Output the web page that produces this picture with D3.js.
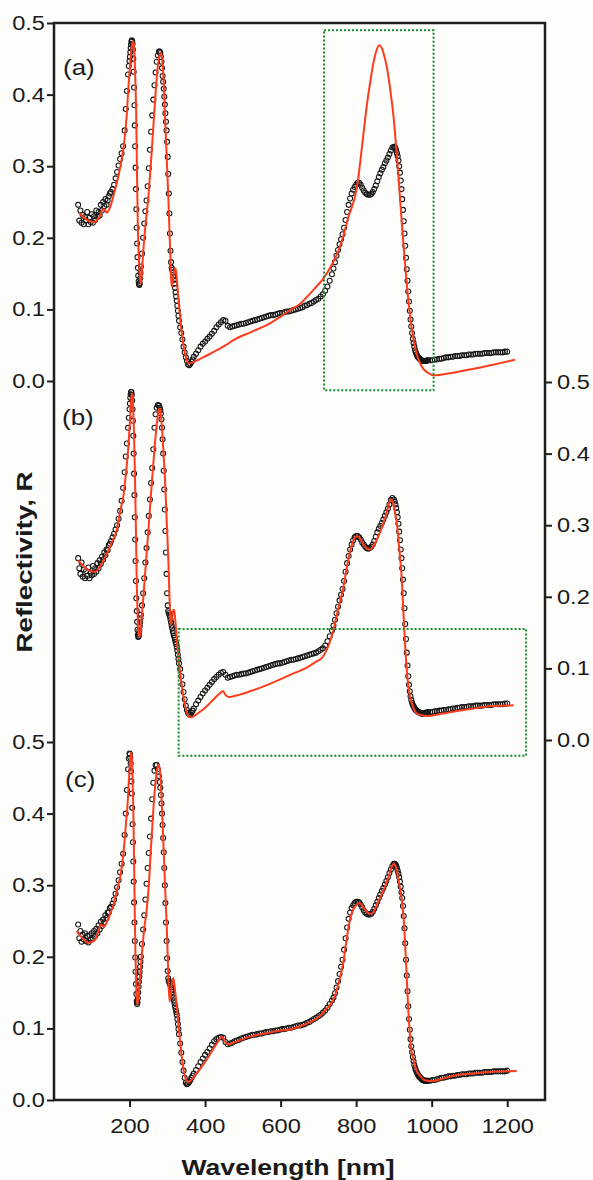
<!DOCTYPE html>
<html>
<head>
<meta charset="utf-8">
<script src="https://cdn.jsdelivr.net/npm/d3@7"></script>
<style>
  html, body { margin: 0; padding: 0; background: #fdfdfb; }
  svg { display: block; }
  text { font-family: "Liberation Sans", Arial, sans-serif; fill: #1a1a1a; }
</style>
</head>
<body>
<svg id="chart" width="593" height="1180"></svg>
<script>
// ---- Data -----------------------------------------------------------------
// Wavelength grid (nm) of the measured reflectivity points
const wavelength = [
  64,67,70,73,76,79,82,85,88,91,94,97,100,103,106,109,112,115,118,121,124,127,130,133,136,139,142,145,148,
  151,155,159,163,167,171,175,179,183,187,190,193,196,198,
  200,201,202,203,204,205,206,207,208,209,210,211,212,213,214,215,216,217,218,219,220,221,222,223,224,225,226,227,228,229,230,
  233,236,239,242,245,248,251,254,257,260,263,266,269,272,275,278,
  280,281.5,283,284.5,286,287.5,289,290.5,292,293.5,295,296.5,298,299.5,301,302.5,304,305.5,307,308.5,310,311.5,313,314.5,316,317.5,319,320.5,322,323.5,325,326.5,328,329.5,331,
  334,337,340,343,346,349,352,355,358,361,364,367,370,
  376,382,388,394,400,406,412,418,424,430,436,442,448,454,460,466,472,478,484,490,496,502,508,514,520,526,532,538,544,550,556,562,568,574,580,586,592,598,604,610,616,622,628,634,640,646,652,658,664,670,676,682,688,694,700,706,712,718,724,730,736,
  740,744,748,752,756,760,764,768,772,776,780,784,788,792,796,800,804,808,812,816,820,824,828,832,836,840,844,848,852,856,860,864,868,872,876,880,884,888,892,896,900,
  902,904,906,908,910,912,914,916,918,920,922,924,926,928,930,932,934,936,938,940,942,944,946,948,950,952,954,956,958,960,962,964,966,968,970,972,974,976,978,980,982,984,986,988,990,
  996,1002,1008,1014,1020,1026,1032,1038,1044,1050,1056,1062,1068,1074,1080,1086,1092,1098,1104,1110,1116,1122,1128,1134,1140,1146,1152,1158,1164,1170,1176,1182,1188,1194,1200
];

// Measured reflectivity, panel (a)
const measuredA = [
  0.246,0.224,0.238,0.221,0.232,0.219,0.229,0.224,0.236,0.219,0.228,0.222,0.233,0.221,0.230,0.225,0.238,0.229,0.236,0.231,0.246,0.238,0.250,0.244,0.254,0.246,0.252,0.258,0.262,
  0.264,0.268,0.274,0.283,0.292,0.301,0.310,0.318,0.328,0.350,0.380,0.405,0.428,0.440,
  0.447,0.453,0.459,0.465,0.470,0.474,0.476,0.475,0.471,0.463,0.450,0.432,0.410,0.385,0.357,0.328,0.298,0.268,0.240,0.214,0.192,0.173,0.158,0.147,0.139,0.135,0.134,0.137,0.143,0.151,0.160,
  0.178,0.200,0.220,0.237,0.252,0.272,0.297,0.323,0.348,0.371,0.393,0.413,0.431,0.446,0.455,0.460,
  0.460,0.458,0.453,0.446,0.437,0.426,0.418,0.408,0.397,0.386,0.374,0.362,0.350,0.334,0.313,0.289,0.262,0.234,0.206,0.182,0.166,0.158,0.155,0.151,0.146,0.141,0.136,0.130,0.124,0.118,0.112,0.105,0.098,0.091,0.084,
  0.075,0.067,0.058,0.048,0.040,0.033,0.028,0.023,0.022,0.024,0.027,0.030,0.034,
  0.038,0.043,0.048,0.052,0.055,0.059,0.062,0.066,0.070,0.075,0.079,0.082,0.085,0.084,0.077,0.075,0.076,0.077,0.078,0.079,0.080,0.080,0.081,0.082,0.083,0.084,0.085,0.086,0.087,0.088,0.089,0.090,0.091,0.092,0.092,0.093,0.094,0.095,0.095,0.096,0.097,0.097,0.098,0.099,0.100,0.101,0.102,0.103,0.105,0.106,0.108,0.109,0.111,0.113,0.115,0.118,0.121,0.126,0.132,0.140,0.149,
  0.157,0.166,0.175,0.183,0.191,0.198,0.205,0.214,0.225,0.236,0.246,0.255,0.262,0.267,0.271,0.274,0.277,0.277,0.274,0.270,0.266,0.263,0.261,0.260,0.260,0.261,0.264,0.268,0.273,0.279,0.285,0.290,0.295,0.299,0.304,0.308,0.312,0.317,0.322,0.326,0.327,
  0.327,0.325,0.322,0.318,0.314,0.308,0.300,0.291,0.280,0.268,0.254,0.239,0.223,0.206,0.189,0.172,0.156,0.140,0.125,0.111,0.098,0.086,0.076,0.067,0.059,0.053,0.048,0.043,0.040,0.037,0.035,0.033,0.032,0.031,0.030,0.029,0.029,0.028,0.028,0.028,0.028,0.028,0.028,0.029,0.029,
  0.029,0.029,0.030,0.030,0.031,0.031,0.032,0.033,0.033,0.034,0.034,0.035,0.035,0.035,0.036,0.036,0.036,0.037,0.037,0.037,0.038,0.038,0.038,0.038,0.039,0.039,0.039,0.039,0.040,0.040,0.040,0.040,0.040,0.041,0.041
];

// Measured reflectivity, panel (b)
const measuredB = [
  0.254,0.240,0.232,0.248,0.228,0.238,0.226,0.236,0.229,0.241,0.226,0.234,0.230,0.243,0.232,0.240,0.235,0.247,0.240,0.251,0.246,0.256,0.252,0.262,0.258,0.266,0.265,0.272,0.274,
  0.278,0.283,0.288,0.294,0.300,0.309,0.320,0.334,0.352,0.374,0.396,0.414,0.436,0.450,
  0.462,0.470,0.478,0.483,0.486,0.486,0.482,0.474,0.462,0.446,0.425,0.400,0.372,0.342,0.311,0.280,0.250,0.222,0.198,0.180,0.165,0.154,0.147,0.144,0.145,0.148,0.153,0.159,0.164,0.170,0.175,
  0.188,0.205,0.226,0.248,0.268,0.290,0.313,0.336,0.359,0.380,0.406,0.436,0.455,0.464,0.468,0.467,
  0.464,0.461,0.456,0.448,0.436,0.420,0.400,0.376,0.350,0.322,0.292,0.262,0.232,0.205,0.188,0.180,0.177,0.175,0.172,0.168,0.164,0.160,0.156,0.152,0.149,0.146,0.143,0.140,0.137,0.134,0.130,0.125,0.119,0.113,0.107,
  0.099,0.089,0.078,0.067,0.057,0.048,0.042,0.038,0.036,0.036,0.038,0.041,0.044,
  0.050,0.055,0.060,0.065,0.069,0.073,0.077,0.081,0.085,0.088,0.091,0.094,0.095,0.091,0.087,0.088,0.089,0.090,0.091,0.091,0.092,0.093,0.093,0.094,0.095,0.096,0.097,0.098,0.099,0.100,0.101,0.102,0.103,0.104,0.105,0.106,0.107,0.107,0.108,0.109,0.110,0.111,0.112,0.112,0.113,0.114,0.115,0.116,0.117,0.118,0.119,0.120,0.121,0.122,0.124,0.126,0.128,0.132,0.138,0.145,0.153,
  0.160,0.168,0.177,0.186,0.195,0.203,0.211,0.222,0.235,0.247,0.257,0.266,0.273,0.279,0.283,0.285,0.285,0.283,0.280,0.276,0.273,0.270,0.268,0.267,0.268,0.270,0.273,0.278,0.284,0.290,0.295,0.299,0.303,0.308,0.313,0.318,0.323,0.329,0.335,0.338,0.336,
  0.333,0.329,0.324,0.318,0.311,0.302,0.291,0.279,0.266,0.254,0.240,0.224,0.205,0.184,0.162,0.141,0.122,0.104,0.089,0.077,0.068,0.061,0.056,0.052,0.049,0.047,0.045,0.043,0.042,0.041,0.040,0.039,0.039,0.038,0.038,0.037,0.037,0.037,0.037,0.037,0.038,0.038,0.038,0.038,0.039,
  0.039,0.039,0.040,0.040,0.041,0.041,0.042,0.042,0.043,0.043,0.044,0.044,0.045,0.045,0.046,0.046,0.046,0.047,0.047,0.047,0.048,0.048,0.048,0.048,0.049,0.049,0.049,0.049,0.050,0.050,0.050,0.050,0.050,0.051,0.051
];

// Measured reflectivity, panel (c)
const measuredC = [
  0.245,0.226,0.236,0.221,0.231,0.224,0.233,0.222,0.229,0.220,0.230,0.224,0.233,0.226,0.236,0.229,0.239,0.233,0.244,0.238,0.249,0.243,0.252,0.248,0.258,0.254,0.262,0.262,0.268,
  0.270,0.274,0.280,0.288,0.297,0.307,0.318,0.330,0.344,0.370,0.400,0.433,0.462,0.477,
  0.484,0.483,0.478,0.470,0.459,0.445,0.428,0.408,0.385,0.360,0.333,0.305,0.276,0.248,0.222,0.199,0.179,0.162,0.148,0.138,0.134,0.136,0.142,0.150,0.158,0.165,0.172,0.179,0.186,0.193,0.200,
  0.218,0.238,0.258,0.280,0.302,0.324,0.345,0.368,0.393,0.420,0.443,0.460,0.468,0.468,0.462,0.452,
  0.444,0.436,0.426,0.414,0.400,0.384,0.366,0.346,0.324,0.300,0.275,0.248,0.222,0.198,0.180,0.170,0.166,0.164,0.162,0.160,0.157,0.154,0.151,0.147,0.143,0.139,0.135,0.131,0.127,0.123,0.119,0.113,0.106,0.099,0.092,
  0.079,0.066,0.053,0.041,0.031,0.024,0.022,0.023,0.025,0.028,0.031,0.034,0.037,
  0.042,0.047,0.053,0.058,0.063,0.067,0.072,0.077,0.082,0.085,0.087,0.088,0.087,0.081,0.078,0.079,0.080,0.082,0.083,0.084,0.086,0.087,0.088,0.089,0.090,0.091,0.091,0.092,0.093,0.093,0.094,0.095,0.095,0.096,0.096,0.097,0.097,0.098,0.099,0.099,0.100,0.101,0.101,0.102,0.103,0.104,0.104,0.105,0.106,0.108,0.109,0.111,0.113,0.115,0.117,0.119,0.122,0.125,0.129,0.134,0.139,
  0.143,0.149,0.157,0.166,0.176,0.186,0.196,0.210,0.226,0.241,0.253,0.262,0.268,0.272,0.275,0.277,0.277,0.276,0.273,0.269,0.265,0.262,0.260,0.259,0.259,0.260,0.263,0.267,0.272,0.277,0.282,0.287,0.292,0.296,0.301,0.306,0.311,0.317,0.322,0.327,0.330,
  0.330,0.329,0.327,0.324,0.320,0.316,0.311,0.305,0.298,0.290,0.282,0.271,0.257,0.240,0.219,0.196,0.174,0.152,0.131,0.113,0.098,0.085,0.075,0.067,0.060,0.054,0.049,0.045,0.042,0.039,0.037,0.035,0.033,0.032,0.031,0.030,0.029,0.028,0.028,0.027,0.027,0.027,0.027,0.027,0.027,
  0.027,0.028,0.028,0.029,0.030,0.031,0.031,0.032,0.033,0.033,0.034,0.034,0.035,0.035,0.036,0.036,0.036,0.037,0.037,0.037,0.038,0.038,0.038,0.038,0.039,0.039,0.039,0.039,0.040,0.040,0.040,0.040,0.040,0.040,0.041
];

// Model fits: [wavelength nm, reflectivity]
const fitA = [
  [66,0.235],[80,0.228],[95,0.223],[108,0.222],[120,0.229],[130,0.240],[135,0.239],[140,0.235],[150,0.245],[161,0.266],[170,0.285],[179,0.309],[186,0.334],[192,0.367],[197,0.410],[201,0.439],[205,0.463],[208,0.473],[210,0.474],[212,0.466],[214,0.445],[216,0.410],[217.5,0.375],[219,0.320],[220.5,0.262],[222,0.215],[224,0.180],[226,0.158],[228,0.142],[229.6,0.136],[231,0.140],[233,0.155],[236.6,0.183],[243,0.222],[250,0.258],[256,0.300],[263,0.355],[270,0.410],[276,0.445],[280,0.456],[282.6,0.458],[285,0.454],[288,0.440],[291,0.410],[294,0.369],[298,0.318],[303,0.252],[307,0.190],[310,0.145],[311.7,0.132],[314,0.138],[317,0.150],[320,0.157],[322,0.157],[325,0.145],[329,0.117],[334,0.088],[340,0.060],[347,0.038],[352,0.028],[356,0.0245],[362,0.025],[372,0.027],[387,0.031],[410,0.037],[431,0.043],[455,0.050],[475,0.057],[520,0.068],[563,0.078],[600,0.090],[625,0.099],[652,0.108],[669,0.117],[690,0.129],[713,0.143],[735,0.162],[757.6,0.188],[780,0.230],[802,0.270],[815,0.325],[828,0.384],[838,0.420],[846,0.445],[854,0.462],[861,0.469],[868,0.465],[875,0.453],[881,0.439],[890,0.408],[899,0.369],[908,0.314],[916.5,0.253],[925,0.192],[934,0.136],[943,0.090],[952,0.057],[961,0.036],[969.5,0.0245],[978,0.017],[987,0.0126],[996,0.0095],[1005,0.008],[1020,0.0085],[1040,0.010],[1067,0.0126],[1100,0.016],[1130,0.019],[1155,0.0219],[1190,0.026],[1221,0.0298]
];
const fitB = [
  [64,0.251],[80,0.242],[95,0.236],[108.6,0.235],[125,0.245],[139.6,0.260],[152,0.275],[166,0.293],[176,0.322],[183.6,0.340],[190,0.370],[197,0.410],[202,0.455],[205,0.478],[206.6,0.484],[208,0.480],[210,0.460],[212,0.425],[214.6,0.363],[217,0.290],[219,0.223],[221,0.180],[223,0.157],[226,0.144],[229,0.150],[232,0.170],[236.6,0.200],[243,0.245],[250,0.293],[256,0.338],[263,0.386],[270,0.430],[276,0.457],[279,0.463],[282,0.458],[286,0.435],[290,0.400],[294,0.363],[298,0.310],[303,0.247],[306,0.195],[309,0.161],[312,0.170],[315,0.180],[318,0.182],[321,0.168],[325,0.140],[329,0.117],[335,0.090],[342.5,0.061],[350,0.042],[358,0.0317],[366,0.032],[380,0.037],[395.5,0.043],[410,0.050],[425,0.058],[440,0.0655],[447,0.0685],[453,0.064],[462,0.060],[470,0.0605],[490,0.063],[519,0.068],[560,0.076],[600,0.085],[625,0.091],[652,0.097],[669,0.101],[690,0.108],[713,0.117],[727,0.132],[740,0.154],[752,0.182],[766,0.213],[775,0.240],[784,0.264],[793,0.279],[803,0.285],[812,0.280],[822,0.271],[830,0.267],[837,0.266],[845,0.270],[855,0.280],[864,0.291],[872,0.303],[880,0.316],[886,0.328],[890,0.335],[894,0.336],[898,0.330],[903,0.318],[908,0.302],[914,0.268],[921,0.223],[925,0.180],[930,0.130],[936,0.085],[943,0.060],[950,0.047],[961,0.037],[975,0.0345],[987,0.0335],[1000,0.034],[1030,0.037],[1067,0.0405],[1110,0.044],[1155,0.047],[1190,0.048],[1217,0.0485]
];
const fitC = [
  [60,0.236],[75,0.226],[91,0.2197],[105,0.222],[113,0.228],[119,0.238],[123.6,0.245],[128,0.244],[132.5,0.242],[140,0.249],[148,0.259],[157,0.272],[168,0.296],[179,0.323],[186,0.357],[190,0.383],[194,0.407],[198,0.444],[201,0.470],[203.5,0.485],[205.5,0.482],[207.5,0.460],[209.5,0.418],[211,0.370],[212.5,0.315],[214,0.255],[216,0.195],[218,0.155],[220.7,0.133],[223,0.140],[226,0.160],[228,0.173],[233,0.205],[239,0.240],[245.5,0.266],[251,0.300],[257,0.355],[263,0.405],[269,0.445],[273,0.462],[276.5,0.468],[280,0.462],[284,0.430],[289.6,0.359],[294,0.300],[298.5,0.243],[302,0.185],[305.6,0.138],[308,0.142],[312,0.162],[316,0.170],[319,0.160],[325,0.130],[329,0.108],[334,0.081],[339,0.057],[344,0.039],[350,0.028],[356,0.025],[362,0.027],[372,0.033],[387,0.0435],[405,0.057],[422,0.0715],[435,0.082],[444,0.0885],[450,0.085],[456,0.079],[462,0.0775],[475,0.080],[500,0.085],[519,0.0885],[560,0.093],[600,0.097],[625,0.0985],[652,0.103],[675,0.108],[696,0.114],[718,0.125],[740,0.141],[752,0.160],[766,0.192],[775,0.225],[784,0.253],[792,0.266],[800,0.272],[809,0.275],[818,0.270],[828,0.263],[836,0.260],[841.5,0.260],[850,0.267],[860,0.279],[872,0.292],[884,0.309],[893,0.324],[899,0.330],[903,0.328],[908,0.318],[914,0.302],[921,0.280],[926,0.252],[930,0.215],[934,0.170],[938.6,0.121],[945,0.075],[952,0.056],[960,0.041],[969.5,0.0335],[980,0.028],[996,0.0265],[1010,0.027],[1030,0.030],[1067,0.035],[1110,0.037],[1155,0.0395],[1190,0.040],[1225,0.0405]
];

// Axis ticks and labels
const xTicks = [200, 400, 600, 800, 1000, 1200];
const yTicks = [0, 0.1, 0.2, 0.3, 0.4, 0.5];
const panelNames = ["(a)", "(b)", "(c)"];

// Highlighted regions: [wavelength from, wavelength to, R from, R to] in the panel's own scale
const highlightA = [715, 1005, -0.013, 0.490];
const highlightB = [330, 1250, -0.022, 0.155];

// ---- Layout ---------------------------------------------------------------
const svg = d3.select("#chart");
const frame = { left: 54, right: 545, top: 23, bottom: 1100 };
const panelBase = [381, 740, 1100];   // pixel row of R = 0 in each panel
const panelSpan = 358;                // pixels for 0.5 of reflectivity

const x = d3.scaleLinear().domain([0, 1300]).range([frame.left, frame.right]);
const yScales = panelBase.map(b => d3.scaleLinear().domain([0, 0.5]).range([b, b - panelSpan]));

const ink = "#1e1e1e";
const fitColor = "#fb3d1d";
const boxColor = "#138a30";

svg.append("rect").attr("width", 593).attr("height", 1180).attr("fill", "#fdfdfb");

// Stretch text horizontally along its baseline
function widen(sel, k) {
  sel.each(function () {
    const w = this.getComputedTextLength();
    this.setAttribute("textLength", (w * k).toFixed(1));
    this.setAttribute("lengthAdjust", "spacingAndGlyphs");
  });
}

// ---- Data marks -----------------------------------------------------------
const measured = [measuredA, measuredB, measuredC];
const fits = [fitA, fitB, fitC];

measured.forEach((vals, i) => {
  const y = yScales[i];
  const pts = d3.zip(wavelength, vals);
  svg.append("g")
    .selectAll("circle")
    .data(pts)
    .join("circle")
    .attr("cx", d => x(d[0]))
    .attr("cy", d => y(d[1]))
    .attr("r", 2.5)
    .attr("fill", "none")
    .attr("stroke", "#151515")
    .attr("stroke-width", 1.05);
});

fits.forEach((fit, i) => {
  const y = yScales[i];
  const line = d3.line()
    .x(d => x(d[0]))
    .y(d => y(d[1]))
    .curve(d3.curveMonotoneX);
  svg.append("path")
    .datum(fit)
    .attr("d", line)
    .attr("fill", "none")
    .attr("stroke", fitColor)
    .attr("stroke-width", 2)
    .attr("stroke-linejoin", "round");
});

// ---- Highlight boxes ------------------------------------------------------
[[highlightA, yScales[0]], [highlightB, yScales[1]]].forEach(([b, y]) => {
  svg.append("rect")
    .attr("x", x(b[0]))
    .attr("y", y(b[3]))
    .attr("width", x(b[1]) - x(b[0]))
    .attr("height", y(b[2]) - y(b[3]))
    .attr("fill", "none")
    .attr("stroke", boxColor)
    .attr("stroke-width", 2)
    .attr("stroke-dasharray", "2,2");
});

// ---- Axes -----------------------------------------------------------------
const fmtR = d3.format(".1f");

function styleAxis(g) {
  g.select(".domain").remove();
  g.selectAll(".tick line").attr("stroke", ink).attr("stroke-width", 2);
  g.selectAll(".tick text")
    .attr("fill", "#1a1a1a")
    .style("font-family", '"Liberation Sans", Arial, sans-serif')
    .style("font-size", "20px");
  widen(g.selectAll(".tick text"), 1.18);
}

[0, 2].forEach(i => {
  svg.append("g")
    .attr("transform", `translate(${frame.left},0)`)
    .call(d3.axisLeft(yScales[i]).tickValues(yTicks).tickFormat(fmtR).tickSize(7).tickPadding(2))
    .call(styleAxis);
});

svg.append("g")
  .attr("transform", `translate(${frame.right},0)`)
  .call(d3.axisRight(yScales[1]).tickValues(yTicks).tickFormat(fmtR).tickSize(7).tickPadding(5))
  .call(styleAxis);

svg.append("g")
  .attr("transform", `translate(0,${frame.bottom})`)
  .call(d3.axisBottom(x).tickValues(xTicks).tickFormat(d3.format("d")).tickSize(7).tickPadding(12))
  .call(styleAxis);

// Frame
svg.append("rect")
  .attr("x", frame.left)
  .attr("y", frame.top)
  .attr("width", frame.right - frame.left)
  .attr("height", frame.bottom - frame.top)
  .attr("fill", "none")
  .attr("stroke", ink)
  .attr("stroke-width", 2.5);

// ---- Text -----------------------------------------------------------------
const panelLabelPos = [[63, 75], [62, 425], [65, 787]];
panelNames.forEach((name, i) => {
  const t = svg.append("text")
    .attr("x", panelLabelPos[i][0])
    .attr("y", panelLabelPos[i][1])
    .style("font-size", "22px")
    .text(name);
  widen(t, 1.18);
});

svg.append("text")
  .attr("x", 288)
  .attr("y", 1175)
  .attr("text-anchor", "middle")
  .attr("textLength", 213)
  .attr("lengthAdjust", "spacingAndGlyphs")
  .style("font-size", "22px")
  .style("font-weight", "bold")
  .text("Wavelength [nm]");

svg.append("text")
  .attr("transform", "translate(32,562) rotate(-90)")
  .attr("text-anchor", "middle")
  .attr("textLength", 181)
  .attr("lengthAdjust", "spacingAndGlyphs")
  .style("font-size", "22px")
  .style("font-weight", "bold")
  .text("Reflectivity, R");
</script>
</body>
</html>
